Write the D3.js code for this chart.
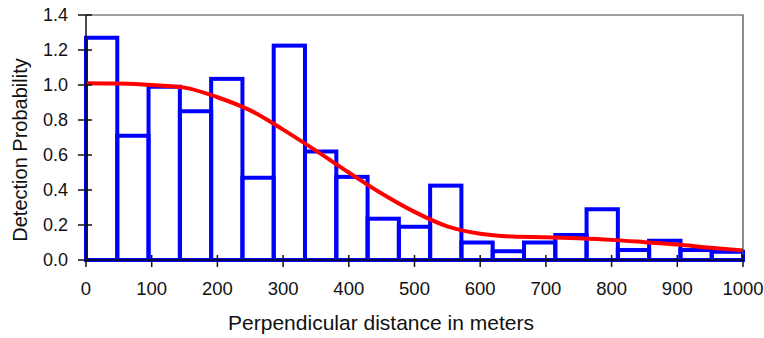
<!DOCTYPE html>
<html>
<head>
<meta charset="utf-8">
<script src="https://cdn.jsdelivr.net/npm/d3@7"></script>
<style>
  body { margin: 0; background: #fff; }
  svg text { font-family: "Liberation Sans", Arial, sans-serif; fill: #111; }
</style>
</head>
<body>
<div id="chart"></div>
<script>
// histogram bins (21 bins of equal width over 0..1000 m) and their heights
const binEdges = [0, 47.6, 95.2, 142.9, 190.5, 238.1, 285.7, 333.3, 381, 428.6, 476.2,
  523.8, 571.4, 619, 666.7, 714.3, 761.9, 809.5, 857.1, 904.8, 952.4, 1000];
const binHeights = [1.27, 0.71, 0.99, 0.85, 1.035, 0.47, 1.225, 0.62, 0.475, 0.236, 0.19,
  0.425, 0.10, 0.05, 0.10, 0.143, 0.29, 0.057, 0.11, 0.057, 0.047];

// fitted detection function
const curveX = [0, 50, 100, 150, 200, 250, 300, 350, 400, 450, 500,
  550, 600, 650, 700, 750, 800, 850, 900, 950, 1000];
const curveY = [1.01, 1.008, 1.0, 0.985, 0.93, 0.855, 0.745, 0.625, 0.5, 0.38, 0.275,
  0.192, 0.15, 0.134, 0.13, 0.124, 0.115, 0.102, 0.088, 0.07, 0.055];

const xTicks = [0, 100, 200, 300, 400, 500, 600, 700, 800, 900, 1000];
const yTicks = [0, 0.2, 0.4, 0.6, 0.8, 1.0, 1.2, 1.4];

const width = 764, height = 338;
const margin = { left: 86, right: 21, top: 15, bottom: 78 };

const svg = d3.select('#chart')
  .append('svg')
    .attr('width', width)
    .attr('height', height);

const x = d3.scaleLinear().domain([0, 1000]).range([margin.left, width - margin.right]);
const y = d3.scaleLinear().domain([0, 1.4]).range([height - margin.bottom, margin.top]);

// bars: each bin as an outlined box
const bins = binHeights.map((h, i) => ({ x0: binEdges[i], x1: binEdges[i + 1], h: h }));
svg.append('g')
  .selectAll('rect')
  .data(bins)
  .enter()
  .append('rect')
    .attr('x', d => x(d.x0))
    .attr('y', d => y(d.h))
    .attr('width', d => x(d.x1) - x(d.x0))
    .attr('height', d => y(0) - y(d.h))
    .attr('fill', 'none')
    .attr('stroke', '#0000ff')
    .attr('stroke-width', 4);

// the detection curve
const line = d3.line()
  .x(d => x(d[0]))
  .y(d => y(d[1]))
  .curve(d3.curveMonotoneX);

svg.append('path')
  .datum(curveX.map((v, i) => [v, curveY[i]]))
  .attr('d', line)
  .attr('fill', 'none')
  .attr('stroke', '#ff0000')
  .attr('stroke-width', 4);

// frame: top and right in grey, axes in black
svg.append('path')
  .attr('d', `M${x(0)},${y(1.4)}H${x(1000)}V${y(0)}`)
  .attr('fill', 'none')
  .attr('stroke', '#444')
  .attr('stroke-width', 1.2);

// y axis
const yAxis = svg.append('g');
yAxis.append('line')
  .attr('x1', x(0)).attr('x2', x(0))
  .attr('y1', y(0)).attr('y2', y(1.4))
  .attr('stroke', '#111').attr('stroke-width', 1.5);
yAxis.selectAll('.tick')
  .data(yTicks)
  .enter()
  .append('line')
    .attr('x1', x(0) - 8).attr('x2', x(0) + 6)
    .attr('y1', d => y(d)).attr('y2', d => y(d))
    .attr('stroke', '#111').attr('stroke-width', 1.5);
yAxis.selectAll('text')
  .data(yTicks)
  .enter()
  .append('text')
    .attr('x', x(0) - 18)
    .attr('y', d => y(d))
    .attr('dy', '0.36em')
    .attr('text-anchor', 'end')
    .style('font-size', '18px')
    .text(d => d3.format('.1f')(d));

// x axis
const xAxis = svg.append('g');
xAxis.append('line')
  .attr('x1', x(0)).attr('x2', x(1000))
  .attr('y1', y(0)).attr('y2', y(0))
  .attr('stroke', '#111').attr('stroke-width', 1.5);
xAxis.selectAll('.tick')
  .data(xTicks)
  .enter()
  .append('line')
    .attr('x1', d => x(d)).attr('x2', d => x(d))
    .attr('y1', y(0) - 5).attr('y2', y(0) + 7)
    .attr('stroke', '#111').attr('stroke-width', 1.5);
xAxis.selectAll('text')
  .data(xTicks)
  .enter()
  .append('text')
    .attr('x', d => x(d))
    .attr('y', 295)
    .attr('text-anchor', 'middle')
    .style('font-size', '18.5px')
    .text(d => d);

// axis titles
svg.append('text')
  .attr('x', 381)
  .attr('y', 330)
  .attr('text-anchor', 'middle')
  .style('font-size', '21px')
  .text('Perpendicular distance in meters');

svg.append('text')
  .attr('transform', 'translate(27,150) rotate(-90)')
  .attr('text-anchor', 'middle')
  .style('font-size', '20px')
  .text('Detection Probability');
</script>
</body>
</html>
